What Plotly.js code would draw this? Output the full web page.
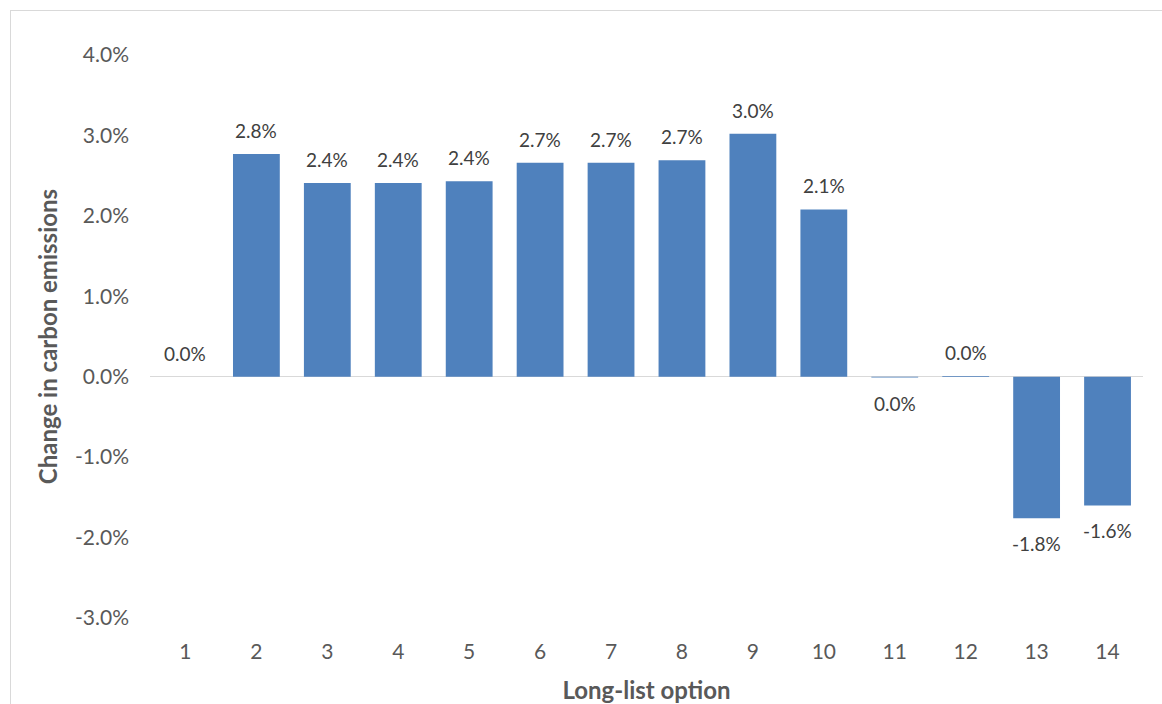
<!DOCTYPE html>
<html>
<head>
<meta charset="utf-8">
<script src="https://cdn.plot.ly/plotly-3.0.1.min.js"></script>
<style>
  html, body { margin: 0; padding: 0; background: #fff; }
  #wrap { position: relative; width: 1162px; height: 704px; overflow: hidden; }
  #frame { position: absolute; left: 10px; top: 10px; width: 1200px; height: 760px;
           border: 1px solid #d9d9d9; box-sizing: border-box; pointer-events: none; }
  #chart { position: absolute; left: 0; top: 0; width: 1162px; height: 704px; }
</style>
</head>
<body>
<div id="wrap">
  <div id="chart"></div>
  <div id="frame"></div>
</div>
<script>
// Long-list options and their change in carbon emissions (%)
const options = ['1', '2', '3', '4', '5', '6', '7', '8', '9', '10', '11', '12', '13', '14'];
const emissionChange = [0.0, 2.77, 2.41, 2.41, 2.43, 2.66, 2.66, 2.69, 3.02, 2.08, -0.01, 0.01, -1.76, -1.60];
const yTicks = [-3, -2, -1, 0, 1, 2, 3, 4];

const fontFamily = 'Lato, "Open Sans", sans-serif';

function pct(v) {
  let s = v.toFixed(1);
  if (parseFloat(s) === 0) s = '0.0';
  return s + '%';
}

const trace = {
  type: 'bar',
  x: options,
  y: emissionChange,
  marker: { color: '#4F81BD' },
  hoverinfo: 'x+y'
};

// Value labels sit a little above positive bars and below negative ones
// (x given as the category index so it lines up with the bar)
const valueLabels = options.map((opt, i) => {
  const v = emissionChange[i];
  const neg = v < 0;
  return {
    x: i,
    y: v,
    xref: 'x',
    yref: 'y',
    text: pct(v),
    showarrow: false,
    yanchor: neg ? 'top' : 'bottom',
    yshift: neg ? -12 : 10,
    font: { family: fontFamily, size: 19, color: '#404040' }
  };
});

const layout = {
  width: 1162,
  height: 704,
  margin: { l: 150, r: 19, t: 55, b: 86 },
  paper_bgcolor: 'rgba(0,0,0,0)',
  plot_bgcolor: 'rgba(0,0,0,0)',
  bargap: 0.34,
  showlegend: false,
  font: { family: fontFamily, color: '#595959' },
  annotations: valueLabels,
  xaxis: {
    type: 'category',
    range: [-0.5, options.length - 0.5],
    showline: false,
    showgrid: false,
    zeroline: false,
    ticks: '',
    ticklabelstandoff: 19,
    tickfont: { size: 21, color: '#595959' },
    title: { text: 'Long-list option', font: { size: 24, color: '#595959', weight: 'bold' }, standoff: 23 }
  },
  yaxis: {
    range: [-3, 4],
    tickvals: yTicks,
    ticktext: yTicks.map(v => v.toFixed(1) + '%'),
    showgrid: false,
    showline: false,
    zeroline: true,
    zerolinecolor: '#d9d9d9',
    zerolinewidth: 1.5,
    ticks: '',
    ticklen: 0,
    ticklabelstandoff: 20,
    tickfont: { size: 21, color: '#595959' },
    title: { text: 'Change in carbon emissions', font: { size: 24, color: '#595959', weight: 'bold' }, standoff: 10 }
  }
};

Plotly.newPlot('chart', [trace], layout, { displayModeBar: false, staticPlot: true });
</script>
</body>
</html>
